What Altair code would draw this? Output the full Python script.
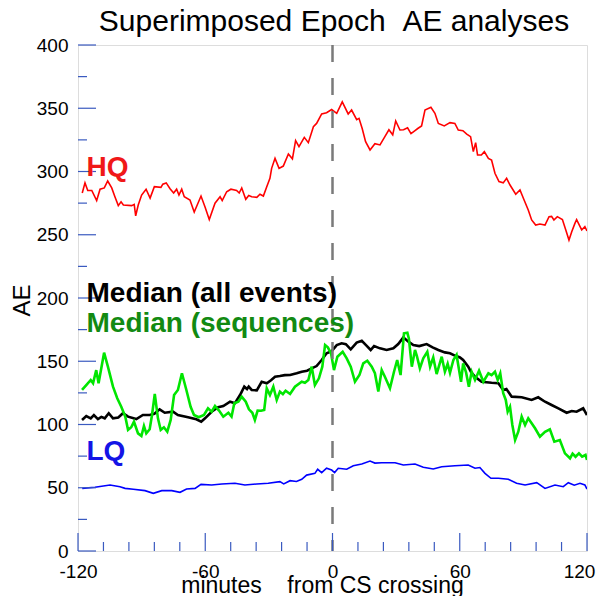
import altair as alt
import pandas as pd

# ---- data ----
hq_t = [-118, -116.7, -115.4, -113.5, -111.2, -109.6, -107.6, -106, -104.1, -102.6, -101, -99.7, -98.6, -94.7, -93.5, -92.8, -91.6, -90, -87.9, -86, -84, -80.9, -80, -78.4, -76.6, -74.9, -73.5, -72.4, -71.1, -69.9, -67.2, -65.2, -62, -60.1, -58.1, -55.4, -53, -52, -49.9, -47.9, -45.2, -44, -42.8, -40.9, -39.5, -38.1, -35.7, -34.2, -32.6, -31, -29.5, -28.7, -27.1, -25.2, -23.2, -20.8, -18.9, -17.4, -15.8, -13.3, -11.4, -9, -7.5, -5.1, -2.8, -0.4, 2, 4.6, 7.4, 9, 11.4, 12.5, 14, 15.6, 17.7, 20, 22.4, 24.7, 26.6, 28.4, 29.8, 31.8, 33.5, 35.4, 37, 38.6, 40.2, 42, 43.6, 46.4, 48.3, 49.9, 52.7, 55.4, 57.7, 59.3, 61.5, 63.3, 65.1, 66.4, 67.5, 68.4, 70.2, 71.6, 73.5, 75, 76.6, 78.5, 80.5, 82.1, 83.7, 86.4, 88.4, 90, 92.3, 93.9, 95.8, 97.8, 100.2, 102.1, 103.3, 104.4, 106, 108.4, 110, 111.5, 112.8, 114.3, 115.1, 117.5, 119, 120]
hq_v = [283, 291, 285, 285, 277, 286, 287, 292.5, 287, 280, 273, 276, 273.5, 273, 274, 265, 273.5, 281.4, 286, 279, 288, 287.5, 290, 291, 286.4, 283, 286, 281.4, 286, 280, 277.5, 268, 280.6, 272, 262, 275, 280, 277, 284, 286, 285, 283, 287, 278, 281, 280, 279.6, 282, 280.6, 288, 294.6, 302.5, 310.4, 302.5, 304.3, 313.8, 310, 324.4, 319.6, 327, 322.8, 335.4, 338, 345.5, 346.5, 349, 346, 355, 345.5, 348.6, 341, 342, 334, 323.6, 317, 322, 321, 327.5, 333, 329, 340, 332.8, 333, 334.6, 330, 332, 334, 336, 348.6, 350.7, 346, 338, 336, 338.6, 338, 332.8, 332.3, 329.6, 327.5, 315.7, 322.8, 313, 313, 315.7, 310.4, 309, 298.6, 292, 291, 294.6, 289.3, 282, 285.4, 278.8, 269.6, 261.7, 257.7, 258.5, 257.7, 264.3, 264.5, 261.7, 264.3, 262, 253.8, 245.8, 252.4, 259, 262, 253.8, 256.4, 253]

lq_t = [-118, -112, -104.9, -100.2, -97.8, -93.9, -88.4, -84.5, -80.5, -75.8, -71.9, -68.8, -64.8, -62, -57, -52.2, -46, -41.3, -35.7, -30.3, -24.8, -23, -20, -17, -14.5, -12.2, -8.3, -7, -5.1, -2.8, -0.4, 1, 2.7, 6.7, 9.8, 13.8, 17.7, 20, 23.2, 29.5, 33.4, 38.9, 42.8, 47.5, 51.5, 57.7, 64, 67.2, 69.5, 71.9, 74.7, 78.2, 82.9, 86.8, 90.8, 96.3, 100.2, 104.9, 108.8, 111.2, 114, 116.7, 119, 120]
lq_v = [49.5, 50.4, 52.2, 50.8, 49.5, 48.8, 47.7, 45.6, 47.7, 47.7, 46.4, 49, 49.5, 52.7, 52.2, 53, 53.5, 52.2, 53, 53.5, 54.8, 53, 55.6, 55, 56.7, 60, 61.4, 64.6, 61.9, 65.4, 64, 62, 65.4, 64.6, 67.4, 68.8, 71.1, 69.5, 69.8, 69.8, 68, 68.8, 66.2, 64.8, 66.6, 67.4, 68, 65.4, 66, 61.4, 57.5, 57.5, 56.7, 53.5, 52.2, 54, 49.5, 52.2, 50.8, 54, 52, 53.5, 52.2, 49]

med_t = [-118.1, -116.1, -114, -112.5, -110.6, -109, -107.4, -105.5, -103.5, -101, -98.8, -96.4, -92.5, -89.4, -86.2, -84, -81.5, -79.1, -75.2, -72.9, -68.1, -64.2, -61.9, -60.1, -57, -53.9, -51.5, -48.3, -46, -43.6, -41.6, -40.3, -39.5, -38.1, -35.7, -33.4, -31, -29, -27.1, -24.8, -22.5, -20, -16.9, -14.5, -12, -9.8, -7.5, -5.1, -2.8, -0.4, 2, 4.3, 6.3, 8.6, 11.4, 13.8, 15.8, 18, 19.6, 22.4, 25.5, 28.7, 31, 33.4, 35.8, 38.1, 40.9, 44.4, 47.2, 49.9, 53, 55.4, 57.7, 60.1, 61.6, 64, 65.5, 67.2, 70.3, 75, 78.2, 80.5, 82, 84.5, 89.2, 93.9, 97, 100.2, 103.3, 106.5, 110.4, 112.8, 115.1, 118.2, 120]
med_v = [103.6, 106.7, 104.9, 107.5, 104.3, 106, 104.9, 108.9, 104.9, 105.5, 108.9, 106.2, 104.3, 107.5, 107.5, 108.5, 112, 109.3, 110.1, 107.5, 105.7, 104.1, 102.2, 104.9, 110.1, 113.6, 114.6, 118, 116.8, 123.3, 129.9, 128, 130, 127.3, 127, 133.8, 132.6, 135, 137.8, 138.3, 139, 139.1, 140.5, 141.7, 142.5, 144.4, 146.2, 151, 156.3, 158, 162.8, 164.2, 163.5, 159.4, 164.7, 166.2, 162.8, 158.9, 162, 160.2, 158.9, 160.2, 163.6, 168.9, 165.5, 162.8, 162, 163.6, 161, 158.9, 157, 156.3, 154.5, 153, 151, 145.7, 141, 137.8, 133.8, 133, 132.6, 127.3, 128, 122, 121.5, 119.4, 121.5, 118, 115.4, 112.8, 109.3, 110.7, 110.1, 112.8, 107.5]

seq_t = [-118.1, -116.1, -114, -112.9, -111.4, -110.3, -107.7, -105.9, -103.5, -101.5, -99.6, -97.7, -96.4, -94.9, -93.6, -91.7, -90.1, -88.9, -87.8, -86.2, -85.1, -83.8, -82.3, -81, -79.5, -77.9, -76.3, -74.7, -72.9, -71, -68.9, -66.9, -65.3, -63.1, -60.6, -58.7, -57, -55.4, -53.5, -51.5, -49.1, -47.6, -46.3, -44.4, -42.8, -40.9, -39.4, -37.8, -36.6, -35.3, -33.7, -32.2, -31, -29.5, -27.9, -26.3, -24.8, -23.4, -22.1, -20, -17.7, -14.5, -13, -11.4, -9.8, -8.3, -6.4, -4.8, -3.5, -2.2, -0.7, 0.7, 2.3, 4.8, 6.7, 8.6, 10.6, 12.7, 14.5, 16.4, 18.5, 20, 21.6, 23.2, 24.7, 27.1, 29, 30.5, 32.1, 33.7, 35.3, 36, 37.4, 38.9, 39.8, 41.2, 42.8, 44.7, 46, 47.5, 49.1, 51.5, 53, 54.3, 55.4, 57, 58.5, 60.6, 61.6, 63, 64.3, 65.6, 67.2, 69.1, 71.1, 73.5, 75, 76.6, 77.9, 79.1, 80.5, 81.7, 82.6, 83.7, 84.8, 86.1, 87.6, 89.2, 90.8, 92.3, 93.9, 95.5, 97.8, 100.2, 102.5, 104.6, 107.2, 109.6, 112, 113.2, 114.6, 116.2, 117.7, 119.3, 120]
seq_v = [127.3, 131.2, 135.2, 132.6, 143, 132.6, 156.8, 145.7, 129.9, 120.7, 114, 106.2, 95.7, 97.8, 102.2, 93, 90.9, 98.8, 93, 96.2, 107.5, 124.1, 104.9, 95.7, 97.8, 94.3, 103.6, 123.3, 127.3, 140.5, 127.3, 114, 107.5, 105.7, 107.5, 112.8, 110.1, 114.6, 111, 106.2, 109.3, 106.2, 116.8, 118, 122, 118, 112, 109.3, 103.6, 111, 110.9, 111.5, 128.6, 123.3, 129.9, 119.4, 126, 124, 126.7, 124.1, 129.9, 133.8, 133, 135.2, 145.7, 131.2, 136.5, 145.7, 162.8, 161, 156.3, 143, 153.6, 157.5, 152.3, 145.7, 133.8, 139.1, 148.4, 150.4, 145.7, 140.5, 126, 143, 137.8, 128.6, 141.7, 151, 139.1, 172.1, 172.6, 168, 145.7, 158.9, 154, 144.4, 152.3, 157.5, 145.7, 153, 139.9, 153.6, 141.7, 148, 140.9, 151, 155, 133.8, 148.4, 141, 129.9, 141.7, 135.2, 142.5, 133.8, 140.5, 139, 141.7, 135.2, 140.5, 124.7, 119.4, 110.1, 114, 99.6, 87.7, 94.3, 106.2, 99.6, 104.9, 101, 97, 90.4, 94.3, 96.2, 86.4, 87.7, 77.2, 73.3, 77, 74.5, 77.2, 74.5, 75.9, 72]

y_tick_values = [0, 50, 100, 150, 200, 250, 300, 350, 400]
y_minor_values = [25, 75, 125, 175, 225, 275, 325, 375]
x_tick_values = [-120, -60, 0, 60, 120]
x_minor_values = [-108, -96, -84, -72, -48, -36, -24, -12, 12, 24, 36, 48, 72, 84, 96, 108]

labels = ["HQ", "Median (all events)", "Median (sequences)", "LQ"]
label_t = [-116, -116, -116, -116]
label_v = [296.4, 196.6, 172.9, 71.9]
label_colors = ["#f01818", "#000000", "#128a12", "#1414e6"]

title_text = "Superimposed Epoch\u00a0\u00a0AE analyses"

FONT = "Liberation Sans"
W, H = 509, 506

xscale = alt.Scale(domain=[-120, 120], nice=False, zero=False)
yscale = alt.Scale(domain=[0, 400], nice=False)

xaxis = alt.Axis(values=x_tick_values, grid=False, ticks=False, tickSize=0, domain=False,
                 labelFontSize=19, labelFont=FONT, labelColor="black", labelPadding=26,
                 labelBaseline="alphabetic", labelFlush=False, labelOverlap=False,
                 labelExpr="'' + datum.value",
                 labelOffset=alt.condition("datum.value == 120", alt.value(-8), alt.value(0)),
                 title="minutes\u00a0\u00a0\u00a0\u00a0from CS crossing",
                 titleFontSize=23, titleFont=FONT, titleFontWeight="normal", titleColor="black",
                 titleX=244, titleY=41, titleAlign="center", titleBaseline="alphabetic")
yaxis = alt.Axis(values=y_tick_values, grid=False, ticks=False, tickSize=0, domain=False,
                 labelFontSize=19, labelFont=FONT, labelColor="black", labelPadding=10,
                 labelFlush=False, labelOverlap=False,
                 title="AE", titleFontSize=24, titleFont=FONT, titleFontWeight="normal",
                 titleColor="black", titleAngle=270, titleX=-49, titleY=255,
                 titleAlign="center", titleBaseline="alphabetic")

def series(t, v, color, width):
    df = pd.DataFrame({"t": t, "v": v})
    return alt.Chart(df).mark_line(color=color, strokeWidth=width, clip=True).encode(
        x=alt.X("t:Q", scale=xscale, axis=xaxis),
        y=alt.Y("v:Q", scale=yscale, axis=yaxis),
    )

zero_line = alt.Chart(pd.DataFrame({"t": [0]})).mark_rule(
    color="#7a7a7a", strokeWidth=2.5, strokeDash=[17, 16]
).encode(x=alt.X("t:Q", scale=xscale))

tick_blue = "#3a5ac0"
ymaj = alt.Chart(pd.DataFrame({"v": y_tick_values})).mark_rule(color=tick_blue, strokeWidth=1.2).encode(
    y=alt.Y("v:Q", scale=yscale), x=alt.value(0), x2=alt.value(18))
ymin = alt.Chart(pd.DataFrame({"v": y_minor_values})).mark_rule(color=tick_blue, strokeWidth=1.2).encode(
    y=alt.Y("v:Q", scale=yscale), x=alt.value(0), x2=alt.value(9))
xmaj = alt.Chart(pd.DataFrame({"t": x_tick_values})).mark_rule(color=tick_blue, strokeWidth=1.2).encode(
    x=alt.X("t:Q", scale=xscale), y=alt.value(H), y2=alt.value(H - 18))
xmin = alt.Chart(pd.DataFrame({"t": x_minor_values})).mark_rule(color=tick_blue, strokeWidth=1.2).encode(
    x=alt.X("t:Q", scale=xscale), y=alt.value(H), y2=alt.value(H - 9))

lab_df = pd.DataFrame({"t": label_t, "v": label_v, "label": labels, "c": label_colors})
texts = alt.Chart(lab_df).mark_text(
    align="left", baseline="alphabetic", fontSize=28, font=FONT, fontWeight="bold"
).encode(
    x=alt.X("t:Q", scale=xscale), y=alt.Y("v:Q", scale=yscale),
    text="label:N", color=alt.Color("c:N", scale=None),
)

title_mark = alt.Chart(pd.DataFrame({"s": [title_text]})).mark_text(
    align="center", baseline="alphabetic", fontSize=30, font=FONT, color="black"
).encode(text="s:N", x=alt.value(256), y=alt.value(-14))

chart = alt.layer(
    series(hq_t, hq_v, "#ff0000", 1.6),
    series(med_t, med_v, "#000000", 2.6),
    series(seq_t, seq_v, "#00e600", 2.6),
    series(lq_t, lq_v, "#0000ff", 1.6),
    zero_line, ymaj, ymin, xmaj, xmin, texts, title_mark,
).properties(
    width=W, height=H,
    autosize=alt.AutoSizeParams(type="none"),
    padding={"left": 70, "top": 37, "right": 9, "bottom": 45},
).configure_view(stroke="#1a3aa0", strokeWidth=1.5).configure(background="white")

chart.save("out.html", embed_options={"renderer": "svg", "actions": False})
